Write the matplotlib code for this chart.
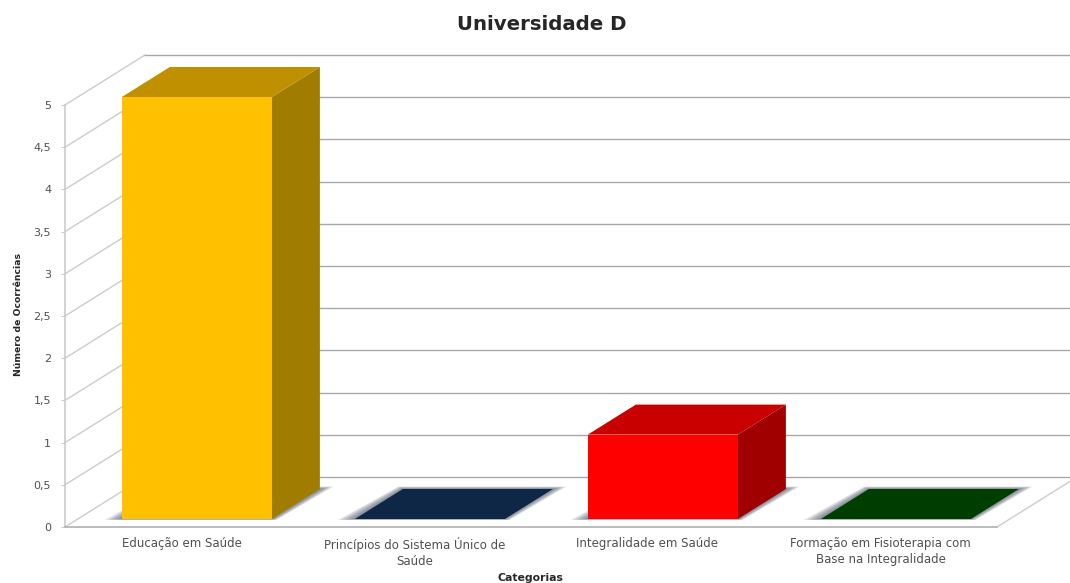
import matplotlib
matplotlib.use('Agg')
import matplotlib.pyplot as plt
from matplotlib.patches import Polygon
import numpy as np

categorias = ['Educação em Saúde', 'Princípios do Sistema Único de\nSaúde',
              'Integralidade em Saúde', 'Formação em Fisioterapia com\nBase na Integralidade']
valores = [5, 0, 1, 0]
yticks = [0, 0.5, 1, 1.5, 2, 2.5, 3, 3.5, 4, 4.5, 5]
ylabels = ['0', '0,5', '1', '1,5', '2', '2,5', '3', '3,5', '4', '4,5', '5']

# front, top and side colour of each bar
cor_frente = ['#FFC000', '#0F2747', '#FF0000', '#003D00']
cor_topo = ['#C09000', '#0F2747', '#C80000', '#003D00']
cor_lado = ['#A07C00', '#0F2747', '#A00000', '#003D00']

W, H = 1070, 583
fig = plt.figure(figsize=(W / 100, H / 100), dpi=100)
ax = fig.add_axes([65 / W, 1 - 527 / H, 932 / W, 422 / H])
ax.set_xlim(-0.5, 3.5)
ax.set_ylim(0, 5)

# fake 3D: shear of the depth direction, in data units
dx = 80 / 233
dy = 50 / 84.4
larg = 0.644
d0, d1 = 0.16, 0.76
desvio = 0.011
grid_lado = '#CCCCCC'
grid_fundo = '#A8A8A8'

for s in ['top', 'right']:
    ax.spines[s].set_visible(False)
ax.spines['left'].set_color(grid_lado)
ax.spines['bottom'].set_color('#B0B0B0')
ax.spines['left'].set_linewidth(1.2)
ax.spines['bottom'].set_linewidth(1.2)

# back wall and left wall lines
x0, x1 = ax.get_xlim()
for v in yticks:
    ax.plot([x0, x0 + dx], [v, v + dy], color=grid_lado, lw=1, clip_on=False, zorder=1)
    ax.plot([x0 + dx, x1 + dx], [v + dy, v + dy], color=grid_fundo, lw=1, clip_on=False, zorder=1)
ax.plot([x1, x1 + dx], [0, dy], color=grid_lado, lw=1, clip_on=False, zorder=1)


def quad(pts, cor, z, alpha=1.0):
    ax.add_patch(Polygon(pts, closed=True, facecolor=cor, edgecolor='none', alpha=alpha,
                         clip_on=False, zorder=z))


for i, v in enumerate(valores):
    esq = i - larg / 2 + d0 * dx + desvio
    dir_ = i + larg / 2 + d0 * dx + desvio
    base = d0 * dy
    prof_x = (d1 - d0) * dx
    prof_y = (d1 - d0) * dy
    topo = base + v
    # soft shadow on the floor
    for k in np.linspace(1, 0.08, 12):
        quad([(esq - 0.075 * k, base - 0.012 * k), (dir_ + 0.02 * k, base - 0.012 * k),
              (dir_ + prof_x + 0.06 * k, base + prof_y + 0.03 * k),
              (esq + prof_x - 0.02 * k, base + prof_y + 0.03 * k)],
             '#5A6270', 2, alpha=0.09)
    # side, top, front
    quad([(dir_, base), (dir_ + prof_x, base + prof_y), (dir_ + prof_x, topo + prof_y), (dir_, topo)],
         cor_lado[i], 3)
    quad([(esq, topo), (dir_, topo), (dir_ + prof_x, topo + prof_y), (esq + prof_x, topo + prof_y)],
         cor_topo[i], 3)
    quad([(esq, base), (dir_, base), (dir_, topo), (esq, topo)], cor_frente[i], 4)

ax.set_xticks(range(len(categorias)))
ax.set_xticklabels(categorias, fontsize=8.5, color='#505050', linespacing=1.3)
ax.set_yticks(yticks)
ax.set_yticklabels(ylabels, fontsize=8, color='#505050')
ax.tick_params(axis='x', length=0, pad=7)
ax.tick_params(axis='y', length=3, color=grid_lado, pad=7)
ax.patch.set_visible(False)

fig.text(542 / W, 1 - 25 / H, 'Universidade D', fontsize=14.2, fontweight='bold',
         color='#262626', ha='center', va='center')
fig.text(19 / W, 1 - 315 / H, 'Número de Ocorrências', fontsize=6.7, fontweight='bold',
         color='#262626', rotation=90, ha='center', va='center')
fig.text(530 / W, 1 - 578 / H, 'Categorias', fontsize=7.8, fontweight='bold',
         color='#262626', ha='center', va='center')

fig.savefig('out.png', dpi=100)
